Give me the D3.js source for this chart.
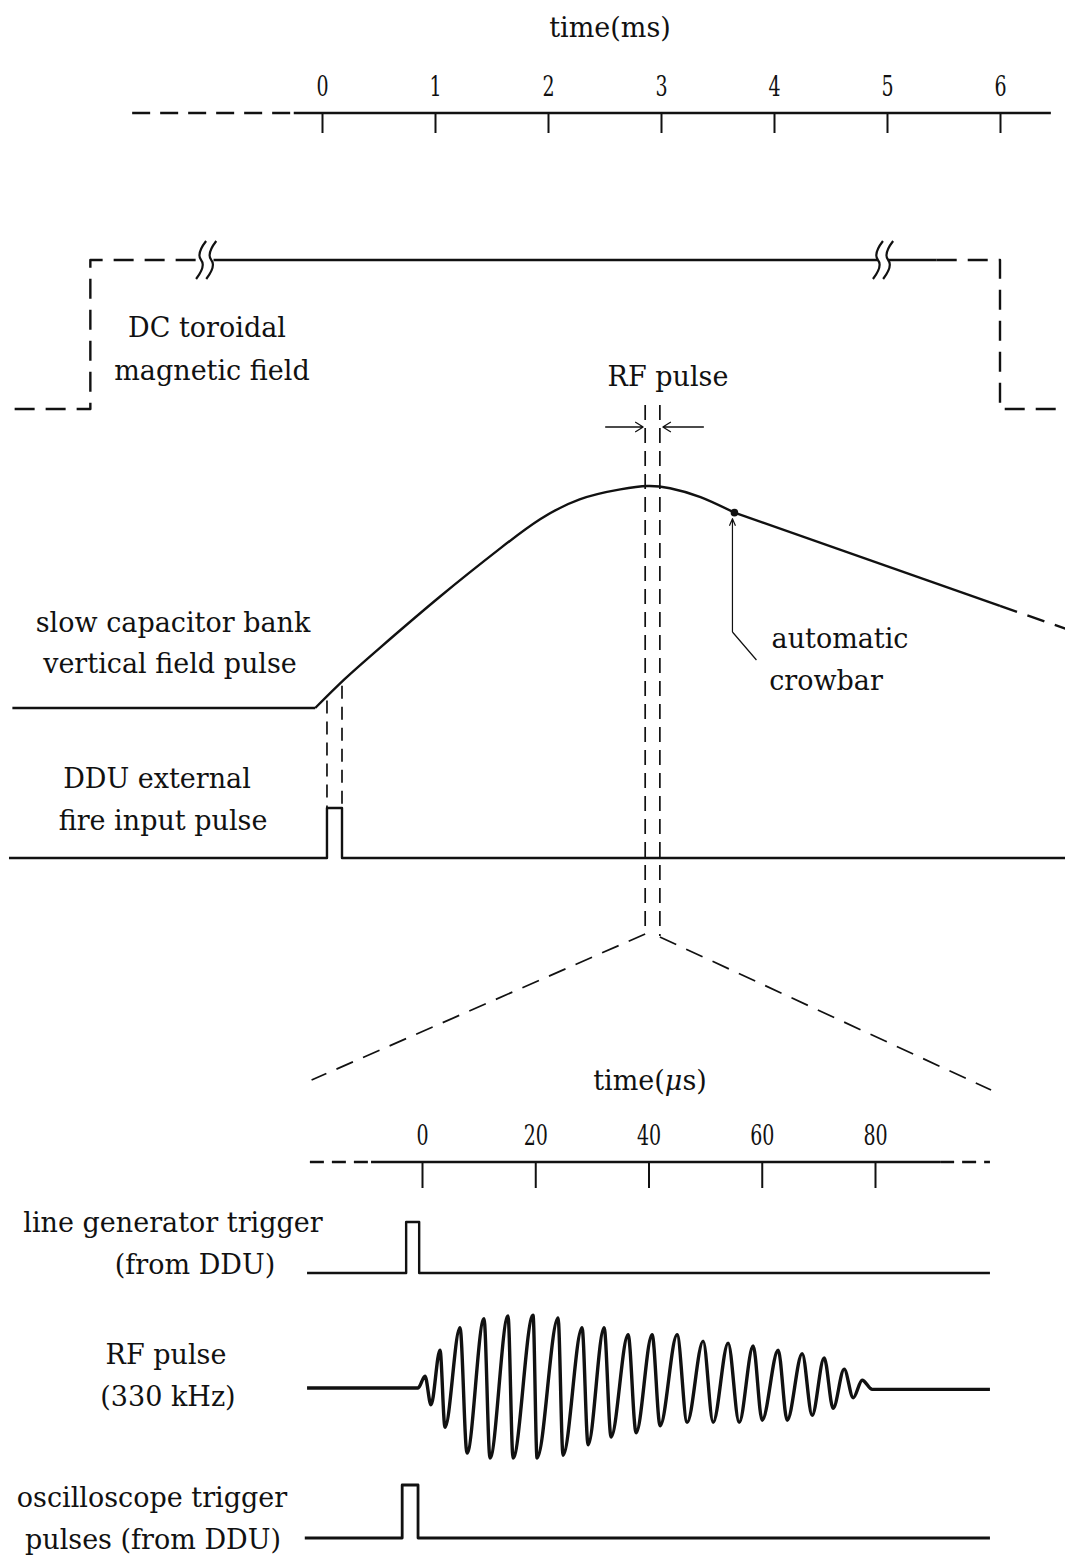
<!DOCTYPE html>
<html>
<head>
<meta charset="utf-8">
<script src="https://cdn.jsdelivr.net/npm/d3@7"></script>
<style>
  body { margin: 0; background: #fff; }
  svg text { font-family: "DejaVu Serif", serif; font-size: 27px; fill: #111; }
</style>
</head>
<body>
<svg id="chart" width="1065" height="1555"></svg>
<script>
// ---------------- data ----------------
// millisecond time base
const msTicks = [0, 1, 2, 3, 4, 5, 6];
// microsecond time base (expanded view around the RF pulse)
const usTicks = [0, 20, 40, 60, 80];

// DC toroidal field: level 0 = off, 1 = on (ms)
const dcDashedLeft  = [[-2.72, 0], [-2.05, 0], [-2.05, 1], [-1.07, 1]];
const dcSolidA      = [[-0.96, 1], [4.92, 1]];
const dcSolidB      = [[5.01, 1], [5.44, 1]];
const dcDashedRight = [[5.44, 1], [6.0, 1], [6.0, 0], [6.62, 0]];
const dcBreaks      = [-1.07, -0.98, 4.92, 5.01];

// slow capacitor bank vertical field pulse (ms, relative amplitude)
const capTime  = [-2.74, -0.06, 0.20, 0.51, 1.04, 1.58, 1.93, 2.28, 2.64, 2.88, 3.08, 3.35, 3.65, 6.0];
const capValue = [0,      0,    0.13, 0.27, 0.50, 0.72, 0.85, 0.94, 0.985, 1.00, 0.99, 0.95, 0.88, 0.46];
const capTail  = [[6.0, 0.46], [6.62, 0.35]];
const crowbarTime = 3.65;

// DDU external fire input pulse (ms)
const dduSpan  = [-2.77, 6.62];
const dduPulse = [0.044, 0.177];

// RF pulse window on the ms time base
const rfWindow = [2.86, 2.99];

// line generator trigger and oscilloscope trigger (µs)
const triggerSpan = [-20.3, 100.3];
const lineGenPulse = [-2.8, -0.5];
const scopePulse   = [-3.5, -0.7];

// RF pulse waveform extrema (µs, relative amplitude)
const rfTime = [-20.3, -0.7, 0.53, 1.59, 3.18, 4.06, 6.71, 7.95, 10.95, 12.01, 15.19, 16.08,
  19.61, 20.32, 24.03, 24.91, 28.27, 29.33, 32.16, 33.39, 36.40, 37.81, 40.64, 42.05,
  45.05, 46.82, 49.65, 51.41, 54.06, 56.01, 58.48, 60.07, 62.90, 64.49, 67.14, 68.90,
  71.02, 72.61, 74.56, 76.15, 77.74, 79.51, 100.3];
const rfValue = [0, 0, 0.17, -0.24, 0.54, -0.56, 0.86, -0.93, 0.99, -1.0, 1.03, -1.0,
  1.04, -1.0, 1.0, -0.96, 0.86, -0.81, 0.86, -0.70, 0.76, -0.64, 0.76, -0.54,
  0.76, -0.49, 0.67, -0.49, 0.64, -0.49, 0.60, -0.46, 0.54, -0.46, 0.49, -0.39,
  0.43, -0.29, 0.27, -0.14, 0.11, -0.02, -0.02];

// ---------------- drawing ----------------
const svg = d3.select("#chart");
svg.append("rect").attr("width", 1065).attr("height", 1555).attr("fill", "#fff");

const ink = "#111";
const xMs = d3.scaleLinear().domain([0, 6]).range([322, 1000]);
const xUs = d3.scaleLinear().domain([0, 80]).range([422, 875]);

const yDC  = d3.scaleLinear().domain([0, 1]).range([409, 260]);
const yCap = d3.scaleLinear().domain([0, 1]).range([708, 486]);
const yDDU = d3.scaleLinear().domain([0, 1]).range([858, 808]);
const yLG  = d3.scaleLinear().domain([0, 1]).range([1273, 1222]);
const yRF  = d3.scaleLinear().domain([-1, 1]).range([1458, 1318]);
const yOT  = d3.scaleLinear().domain([0, 1]).range([1538, 1485]);

function path(d, opts = {}) {
  return svg.append("path")
    .attr("d", d)
    .attr("fill", "none")
    .attr("stroke", ink)
    .attr("stroke-width", opts.w || 2.4)
    .attr("stroke-dasharray", opts.dash || null)
    .attr("stroke-linejoin", "round");
}
function label(x, y, str, anchor = "middle") {
  return svg.append("text").attr("x", x).attr("y", y).attr("text-anchor", anchor).text(str);
}

// ---- ms axis ----
const msAxis = d3.axisBottom(xMs).tickValues(msTicks).tickSize(20).tickSizeOuter(0).tickFormat(d3.format("d"));
const gMs = svg.append("g").attr("transform", "translate(0,113)").call(msAxis);
gMs.select(".domain").remove();
gMs.selectAll(".tick line").attr("stroke", ink).attr("stroke-width", 2);
gMs.selectAll(".tick text")
  .attr("y", -17).attr("dy", 0)
  .attr("transform", "scale(0.68,1)")
  .style("font-size", "28px").style("font-family", "DejaVu Serif, serif").attr("fill", ink);
const hLine = (x, y) => d3.line().x(d => x(d[0])).y(d => y(d[1]));
const lineMsAxis = hLine(xMs, () => 113);
path(lineMsAxis([[-1.68, 0], [-0.25, 0]]), { dash: "18 10" });
path(lineMsAxis([[-0.25, 0], [6.45, 0]]));
label(610, 37, "time(ms)");

// ---- DC toroidal field ----
const lineDC = hLine(xMs, yDC);
path(lineDC(dcDashedLeft), { dash: "20 11" });
path(lineDC(dcSolidA));
path(lineDC(dcSolidB));
path(lineDC(dcDashedRight), { dash: "20 11" });
dcBreaks.forEach(t => {
  const x = xMs(t), y = yDC(1);
  path(`M${x + 5},${y - 19} Q${x - 5},${y - 6} ${x},${y} T${x - 5},${y + 19}`, { w: 2.2 });
});
label(207, 337, "DC toroidal");
label(212, 380, "magnetic field");

// ---- RF pulse window marker ----
label(668, 386, "RF pulse");
const wx0 = xMs(rfWindow[0]), wx1 = xMs(rfWindow[1]);
path(`M${wx0},405 L${wx0},932`, { w: 1.7, dash: "15 8" });
path(`M${wx1},405 L${wx1},936`, { w: 1.7, dash: "15 8" });
const ay = 427;
path(`M${wx0 - 40},${ay} L${wx0 - 2},${ay} M${wx0 - 10},${ay - 5} L${wx0 - 2},${ay} L${wx0 - 10},${ay + 5}`, { w: 1.3 });
path(`M${wx1 + 44},${ay} L${wx1 + 3},${ay} M${wx1 + 11},${ay - 5} L${wx1 + 3},${ay} L${wx1 + 11},${ay + 5}`, { w: 1.3 });

// ---- slow capacitor bank pulse ----
const capPts = capTime.map((t, i) => [t, capValue[i]]);
const capFlat = capPts.slice(0, 2);
const capRise = capPts.slice(1, 13);
const capDecay = capPts.slice(12);
path(hLine(xMs, yCap)(capFlat));
path(d3.line().x(d => xMs(d[0])).y(d => yCap(d[1])).curve(d3.curveNatural)(capRise));
path(hLine(xMs, yCap)(capDecay));
path(hLine(xMs, yCap)(capTail), { dash: "18 11" });
const cbx = xMs(crowbarTime), cby = yCap(capValue[capTime.indexOf(crowbarTime)]);
svg.append("circle").attr("cx", cbx).attr("cy", cby).attr("r", 3.8).attr("fill", ink);
path(`M${cbx - 2},632 L${cbx - 2},${cby + 6} M${cbx - 5},${cby + 13} L${cbx - 2},${cby + 6} L${cbx + 1},${cby + 13} M${cbx - 2},632 L${cbx + 22},660`, { w: 1.2 });
label(840, 648, "automatic");
label(826, 690, "crowbar");
label(173, 632, "slow capacitor bank");
label(170, 673, "vertical field pulse");

// ---- DDU external fire input pulse ----
const lineDDU = hLine(xMs, yDDU);
path(lineDDU([[dduSpan[0], 0], [dduPulse[0], 0], [dduPulse[0], 1], [dduPulse[1], 1], [dduPulse[1], 0], [dduSpan[1], 0]]));
// projections from the ramp onto the pulse edges
const capAt = d3.scaleLinear().domain(capTime.slice(1, 4)).range(capValue.slice(1, 4));
dduPulse.forEach(t => {
  path(`M${xMs(t)},${yCap(capAt(t)) + 4} L${xMs(t)},${yDDU(1)}`, { w: 1.7, dash: "13 8" });
});
label(157, 788, "DDU external");
label(163, 830, "fire input pulse");

// ---- expansion lines to the µs time base ----
path(`M${wx0},934 L${xUs(-19.5)},1080`, { w: 1.7, dash: "18 11" });
path(`M${wx1},937 L${xUs(100.5)},1090`, { w: 1.7, dash: "18 11" });

// ---- µs axis ----
const usAxis = d3.axisBottom(xUs).tickValues(usTicks).tickSize(26).tickSizeOuter(0).tickFormat(d3.format("d"));
const gUs = svg.append("g").attr("transform", "translate(0,1162)").call(usAxis);
gUs.select(".domain").remove();
gUs.selectAll(".tick line").attr("stroke", ink).attr("stroke-width", 2);
gUs.selectAll(".tick text")
  .attr("y", -17).attr("dy", 0)
  .attr("transform", "scale(0.68,1)")
  .style("font-size", "28px").style("font-family", "DejaVu Serif, serif").attr("fill", ink);
const lineUsAxis = hLine(xUs, () => 1162);
path(lineUsAxis([[-19.8, 0], [-9.0, 0]]), { dash: "14 8" });
path(lineUsAxis([[-9.0, 0], [91.5, 0]]));
path(lineUsAxis([[91.5, 0], [100.3, 0]]), { dash: "14 8" });
const tUs = label(650, 1090, "time(");
tUs.append("tspan").attr("font-style", "italic").text("\u03bc");
tUs.append("tspan").text("s)");

// ---- line generator trigger ----
path(hLine(xUs, yLG)([[triggerSpan[0], 0], [lineGenPulse[0], 0], [lineGenPulse[0], 1], [lineGenPulse[1], 1], [lineGenPulse[1], 0], [triggerSpan[1], 0]]));
label(173, 1232, "line generator trigger");
label(195, 1274, "(from DDU)");

// ---- RF pulse waveform ----
const rfPts = rfTime.map((t, i) => [t, rfValue[i]]);
path(d3.line().x(d => xUs(d[0])).y(d => yRF(d[1])).curve(d3.curveMonotoneX)(rfPts), { w: 3.4 });
label(166, 1364, "RF pulse");
label(168, 1406, "(330 kHz)");

// ---- oscilloscope trigger pulses ----
path(hLine(xUs, yOT)([[triggerSpan[0] - 0.4, 0], [scopePulse[0], 0], [scopePulse[0], 1], [scopePulse[1], 1], [scopePulse[1], 0], [triggerSpan[1], 0]]), { w: 2.8 });
label(152, 1507, "oscilloscope trigger");
label(153, 1549, "pulses (from DDU)");
</script>
</body>
</html>
